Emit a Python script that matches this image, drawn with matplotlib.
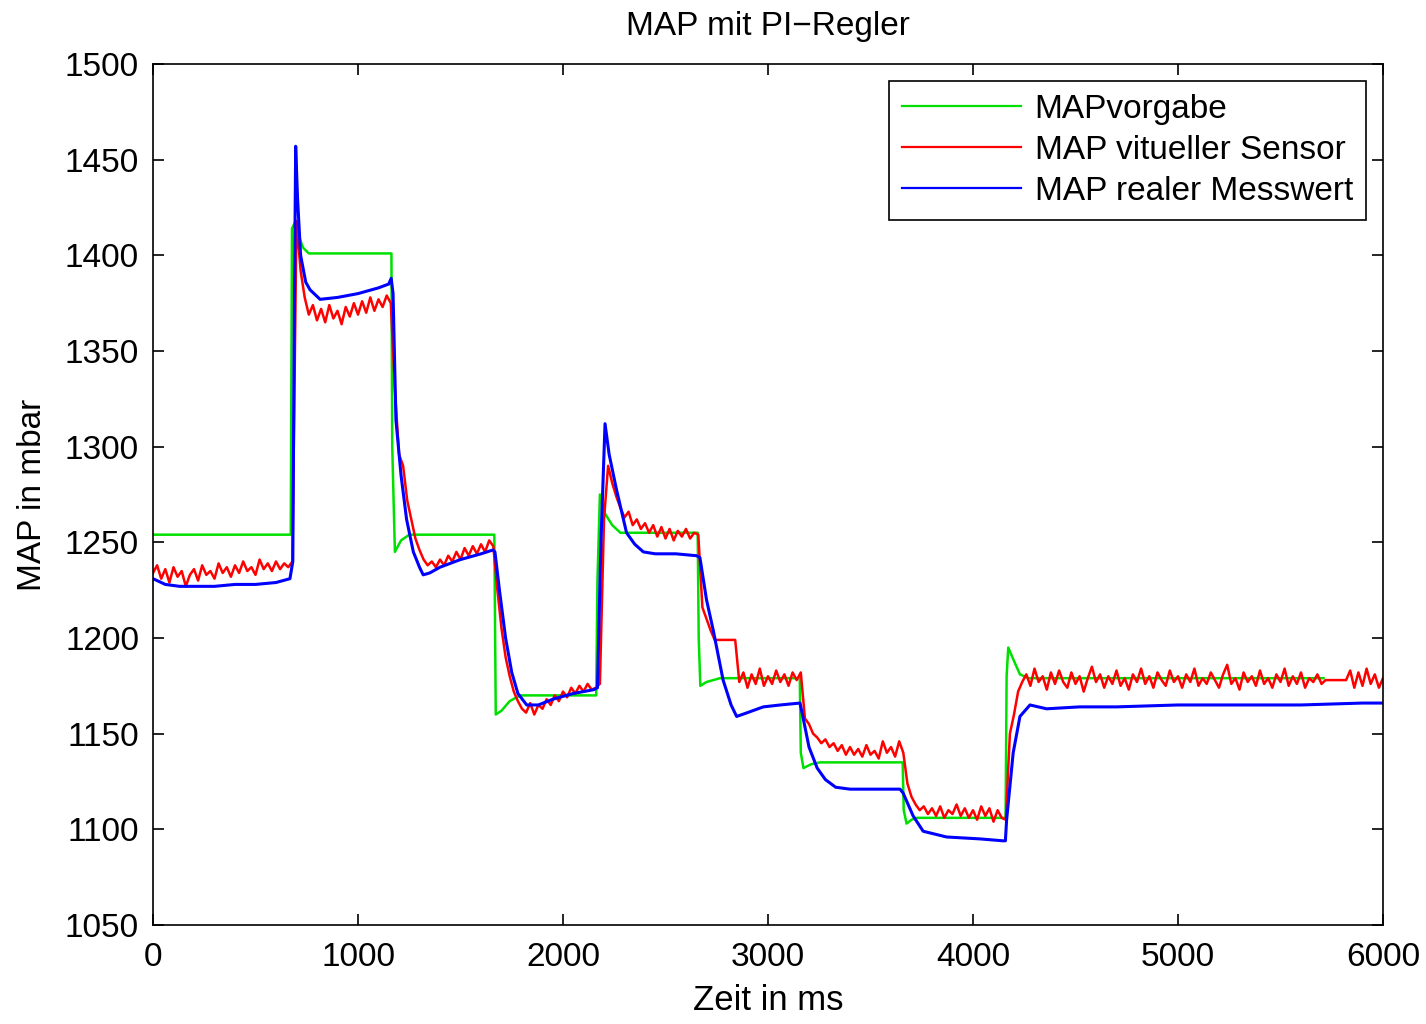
import numpy as np
import matplotlib.pyplot as plt

plt.rcParams['font.family'] = ['Liberation Sans', 'DejaVu Sans']

# MAPvorgabe (Sollwert), Stuetzpunkte
green_t = [0, 672, 678, 692, 705, 732, 760,
           1163, 1167, 1180, 1210, 1250,
           1665, 1672, 1700, 1740, 1790,
           2162, 2168, 2180, 2205, 2240, 2280,
           2657, 2662, 2670, 2700, 2766,
           3155, 3160, 3173, 3210, 3254,
           3657, 3662, 3676, 3700, 3725,
           4159, 4164, 4172, 4200, 4229, 4270, 5710]
green_v = [1254, 1254, 1414, 1417, 1412, 1404, 1401,
           1401, 1300, 1245, 1251, 1254,
           1254, 1160, 1162, 1167, 1170,
           1170, 1230, 1275, 1265, 1259, 1255,
           1255, 1200, 1175, 1177, 1179,
           1179, 1140, 1132, 1134, 1135,
           1135, 1110, 1103, 1105, 1106,
           1106, 1180, 1195, 1188, 1181, 1179, 1179]

red_v = [1234, 1238, 1231, 1236, 1229, 1237, 1232, 1235, 1227, 1233,
         1236, 1230, 1238, 1233, 1235, 1231, 1239, 1234, 1237, 1232,
         1238, 1234, 1240, 1235, 1237, 1233, 1241, 1236, 1239, 1235,
         1240, 1236, 1239, 1237, 1240, 1418, 1392, 1378, 1369, 1374,
         1366, 1372, 1365, 1374, 1367, 1371, 1364, 1373, 1368, 1375,
         1369, 1376, 1370, 1378, 1371, 1377, 1373, 1379, 1375, 1330,
         1296, 1290, 1272, 1262, 1252, 1246, 1241, 1238, 1240, 1237,
         1241, 1238, 1243, 1240, 1245, 1241, 1247, 1243, 1248, 1244,
         1249, 1245, 1251, 1248, 1225, 1205, 1190, 1180, 1172, 1167,
         1163, 1161, 1166, 1160, 1165, 1163, 1168, 1165, 1170, 1167,
         1172, 1169, 1174, 1171, 1175, 1172, 1176, 1173, 1174, 1176,
         1262, 1290, 1281, 1274, 1268, 1263, 1266, 1259, 1262, 1257,
         1260, 1255, 1259, 1253, 1258, 1252, 1257, 1251, 1256, 1253,
         1257, 1252, 1255, 1254, 1216, 1210, 1204, 1199, 1199, 1199,
         1199, 1199, 1199, 1177, 1182, 1174, 1181, 1176, 1184, 1175,
         1180, 1176, 1183, 1177, 1181, 1175, 1182, 1178, 1182, 1158,
         1155, 1150, 1148, 1145, 1147, 1143, 1145, 1141, 1144, 1139,
         1143, 1139, 1142, 1138, 1144, 1139, 1141, 1137, 1146, 1140,
         1143, 1138, 1146, 1140, 1124, 1117, 1113, 1110, 1112, 1108,
         1111, 1107, 1112, 1106, 1110, 1108, 1113, 1107, 1111, 1106,
         1110, 1105, 1112, 1107, 1111, 1104, 1110, 1106, 1105, 1150,
         1160, 1172, 1177, 1181, 1175, 1184, 1177, 1180, 1173, 1182,
         1176, 1183, 1177, 1174, 1182, 1176, 1180, 1172, 1179, 1185,
         1177, 1181, 1174, 1180, 1176, 1183, 1175, 1179, 1173, 1181,
         1177, 1184, 1176, 1180, 1174, 1182, 1178, 1175, 1183, 1177,
         1180, 1174, 1181, 1177, 1184, 1175, 1179, 1176, 1182, 1178,
         1174, 1181, 1186, 1176, 1179, 1173, 1182, 1177, 1180, 1175,
         1183, 1176, 1179, 1174, 1181, 1177, 1184, 1175, 1180, 1176,
         1182, 1174, 1179, 1177, 1181, 1176, 1178, 1178, 1178, 1178,
         1178, 1178, 1183, 1174, 1182, 1175, 1184, 1176, 1181, 1174,
         1179]
red_t = np.arange(len(red_v)) * 20

# MAP realer Messwert
blue_t = [0, 60, 130, 200, 300, 400, 500, 600, 668, 682,
          690, 696, 705, 720, 745, 766, 815, 900, 1000, 1100,
          1150, 1162, 1171, 1185, 1210, 1237, 1270, 1300, 1318, 1350,
          1400, 1500, 1600, 1658, 1668, 1690, 1720, 1750, 1780, 1823,
          1880, 1950, 2050, 2150, 2168, 2185, 2205, 2225, 2260, 2310,
          2350, 2392, 2450, 2550, 2652, 2668, 2700, 2733, 2781, 2820,
          2847, 2900, 2977, 3060, 3156, 3168, 3200, 3240, 3280, 3330,
          3400, 3546, 3644, 3659, 3708, 3757, 3871, 4034, 4147, 4158,
          4164, 4196, 4229, 4278, 4359, 4520, 4700, 5000, 5300, 5600,
          5900, 6000]
blue_v = [1231, 1228, 1227, 1227, 1227, 1228, 1228, 1229, 1231, 1240,
          1380, 1457, 1430, 1400, 1386, 1382, 1377, 1378, 1380, 1383,
          1385, 1388, 1380, 1314, 1285, 1262, 1245, 1237, 1233, 1234,
          1237, 1241, 1244, 1246, 1245, 1225, 1200, 1182, 1171, 1165,
          1165, 1168, 1171, 1173, 1174, 1250, 1312, 1296, 1278, 1255,
          1249, 1245, 1244, 1244, 1243, 1242, 1220, 1204, 1178, 1165,
          1159, 1161, 1164, 1165, 1166, 1160, 1143, 1132, 1126, 1122,
          1121, 1121, 1121, 1119, 1107, 1099, 1096, 1095, 1094, 1094,
          1105, 1140, 1159, 1165, 1163, 1164, 1164, 1165, 1165, 1165,
          1166, 1166]

fig = plt.figure(figsize=(14.26, 10.24), dpi=100)
ax = fig.add_axes([153/1426, 1 - 925/1024, 1230/1426, 861/1024])

ax.plot(green_t, green_v, color='#00e000', lw=1.8, label='MAPvorgabe')
ax.plot(red_t, red_v, color='#ff0000', lw=1.8, label='MAP vitueller Sensor')
ax.plot(blue_t, blue_v, color='#0000ff', lw=2.2, label='MAP realer Messwert')

ax.set_xlim(0, 6000)
ax.set_ylim(1050, 1500)
ax.set_xticks(range(0, 6001, 1000))
ax.set_yticks(range(1050, 1501, 50))
ax.tick_params(direction='in', top=True, right=True, length=8, width=1.2,
               labelsize=24)
ax.tick_params(axis='x', pad=12)
ax.tick_params(axis='y', pad=10)
for s in ax.spines.values():
    s.set_linewidth(1.2)

fig.text(768/1426, 1 - 26/1024, 'MAP mit PI\u2212Regler', ha='center', va='center',
         fontsize=24)
ax.set_xlabel('Zeit in ms', fontsize=25, labelpad=8)
ax.set_ylabel('MAP in mbar', fontsize=24, labelpad=12)

leg = ax.legend(loc='upper right', fontsize=24, handlelength=3.55,
                handletextpad=0.42, labelspacing=0.3, borderaxespad=0.5,
                borderpad=0.4, fancybox=False, framealpha=1,
                edgecolor='black')
leg.get_frame().set_linewidth(1.2)
for line in leg.get_lines():
    line.set_linewidth(1.6)

fig.savefig('out.png', dpi=100)
